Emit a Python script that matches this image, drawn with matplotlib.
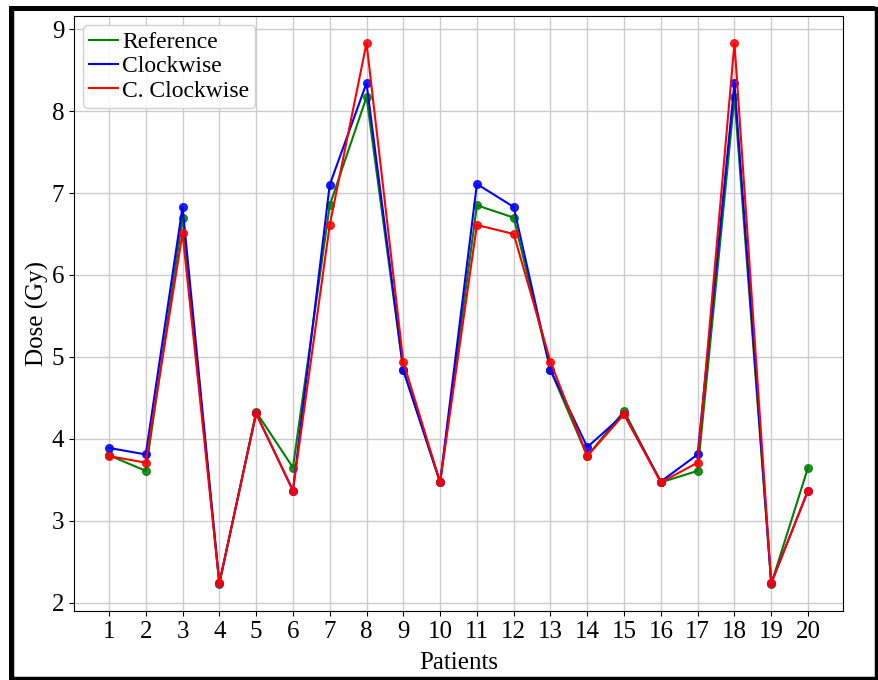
import matplotlib
matplotlib.use("Agg")
import matplotlib.pyplot as plt
from matplotlib.patches import Rectangle

# values
patients = list(range(1, 21))
reference = [3.80, 3.61, 6.70, 2.23, 4.33, 3.65, 6.85, 8.17, 4.84, 3.47,
             6.85, 6.70, 4.84, 3.79, 4.34, 3.47, 3.61, 8.17, 2.23, 3.65]
clockwise = [3.89, 3.81, 6.83, 2.24, 4.31, 3.37, 7.10, 8.34, 4.84, 3.47,
             7.11, 6.83, 4.84, 3.90, 4.30, 3.48, 3.81, 8.34, 2.24, 3.37]
cclockwise = [3.79, 3.71, 6.51, 2.24, 4.31, 3.37, 6.61, 8.83, 4.94, 3.47,
              6.61, 6.50, 4.94, 3.79, 4.30, 3.47, 3.71, 8.83, 2.24, 3.37]

series = [(reference, 'green', 'Reference'),
          (clockwise, 'blue', 'Clockwise'),
          (cclockwise, 'red', 'C. Clockwise')]

plt.rcParams['font.family'] = ['Liberation Serif', 'DejaVu Serif']

fig = plt.figure(figsize=(8.79, 6.8), dpi=100)
ax = fig.add_axes([74/879, 1-611/680, (843-74)/879, (611-16)/680])

for vals, col, lab in series:
    ax.plot(patients, vals, color=col, lw=1.5, label=lab)
    ax.plot(patients, vals, 'o', color=col, ms=5.5, alpha=0.85)

ax.set_xticks(patients)
ax.set_yticks(range(2, 10))
ax.tick_params(labelsize=18)
ax.grid(True, color='#cccccc', lw=1)
ax.set_axisbelow(True)
ax.set_xlabel('Patients', fontsize=18, labelpad=7)
ax.set_ylabel('Dose (Gy)', fontsize=18, labelpad=2)
ax.legend(loc='upper left', fontsize=17, handlelength=1.2, handletextpad=0.2,
          borderpad=0.25, labelspacing=0.12, borderaxespad=0.4, framealpha=0.9)

# outer frame around the figure
fig.patches.append(Rectangle((12/879, 2/680), 864/879, 670/680, transform=fig.transFigure,
                             fill=False, ec='black', lw=2.5))
fig.patches.append(Rectangle((9/879, 669/680), 866/879, 5/680, transform=fig.transFigure,
                             fc='black', ec='none'))
fig.patches.append(Rectangle((9/879, 0), 5/879, 674/680, transform=fig.transFigure,
                             fc='black', ec='none'))

fig.savefig('out.png', dpi=100, facecolor='w')
